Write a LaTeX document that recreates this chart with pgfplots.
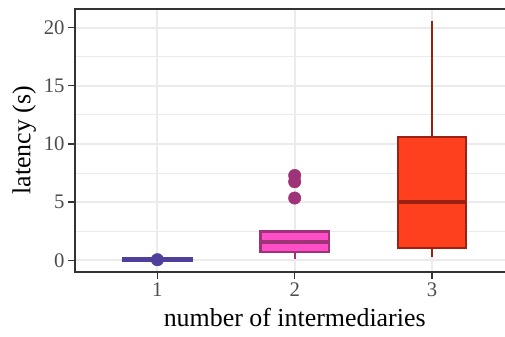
\documentclass[border=0pt]{standalone}
\usepackage{fontspec}
\setmainfont{Liberation Serif}
\usepackage{pgfplots}
\pgfplotsset{compat=1.18}
\usepgfplotslibrary{statistics}
\definecolor{cA}{HTML}{4F3F9B}
\definecolor{cBf}{HTML}{FF4FC8}
\definecolor{cBe}{HTML}{9E3378}
\definecolor{cCf}{HTML}{FF401F}
\definecolor{cCe}{HTML}{9B2212}
\definecolor{gridc}{HTML}{EBEBEB}
\definecolor{framec}{HTML}{333333}
\definecolor{tickc}{HTML}{4D4D4D}
\begin{document}
\begin{tikzpicture}
\begin{axis}[name=ax, scale only axis, width=439.4bp, height=262.8bp,
  xmin=0.4, xmax=3.6, ymin=-0.99, ymax=21.6,
  xtick={1,2,3}, ytick={0,5,10,15,20}, minor ytick={2.5,7.5,12.5,17.5},
  grid=both,
  major grid style={draw=gridc, line width=2bp},
  minor grid style={draw=gridc, line width=1bp},
  axis line style={draw=framec, line width=1.4bp},
  tick style={draw=framec, line width=1.4bp},
  major tick length=7bp, minor tick length=0pt, tick align=outside, tick pos=left,
  /pgf/number format/assume math mode=true,
  ticklabel style={font=\fontsize{20.8}{24}\selectfont, text=tickc},
  xlabel={number of intermediaries}, ylabel={latency (s)},
  label style={font=\fontsize{26}{30}\selectfont, text=black},
  xlabel style={yshift=-5bp},
  ylabel style={yshift=1bp},
  boxplot/draw direction=y,
  boxplot/box extend=0.5, boxplot/whisker extend=0,
]
\addplot[draw=cA, fill=cA, line width=2.6bp, line cap=round, mark=*, mark size=6.2bp, mark options={draw=cA, fill=cA, line width=0.5bp},
  boxplot prepared={lower whisker=-0.05, lower quartile=-0.05, median=0.05, upper quartile=0.15, upper whisker=0.15, draw position=1},
  boxplot/every median/.style={line width=2.6bp}]
  coordinates {(0,0.05)};
\addplot[draw=cBe, fill=cBf, line width=2.3bp, mark=*, mark size=6.2bp, mark options={draw=cBe, fill=cBe, line width=0.5bp},
  boxplot prepared={lower whisker=0.1, lower quartile=0.70, median=1.6, upper quartile=2.48, upper whisker=2.5, draw position=2},
  boxplot/every whisker/.style={line width=1.7bp},
  boxplot/every median/.style={line width=3.8bp}]
  coordinates {(0,5.35) (0,6.75) (0,7.29)};
\addplot[draw=cCe, fill=cCf, line width=2.3bp,
  boxplot prepared={lower whisker=0.24, lower quartile=1.07, median=5.03, upper quartile=10.59, upper whisker=20.6, draw position=3},
  boxplot/every whisker/.style={line width=1.7bp},
  boxplot/every median/.style={line width=3.8bp}]
  coordinates {};
\end{axis}
\pgfresetboundingbox
\useasboundingbox ([shift={(-75bp,-64.3bp)}]ax.south west) rectangle ([shift={(430bp,9bp)}]ax.north west);
\end{tikzpicture}
\end{document}
